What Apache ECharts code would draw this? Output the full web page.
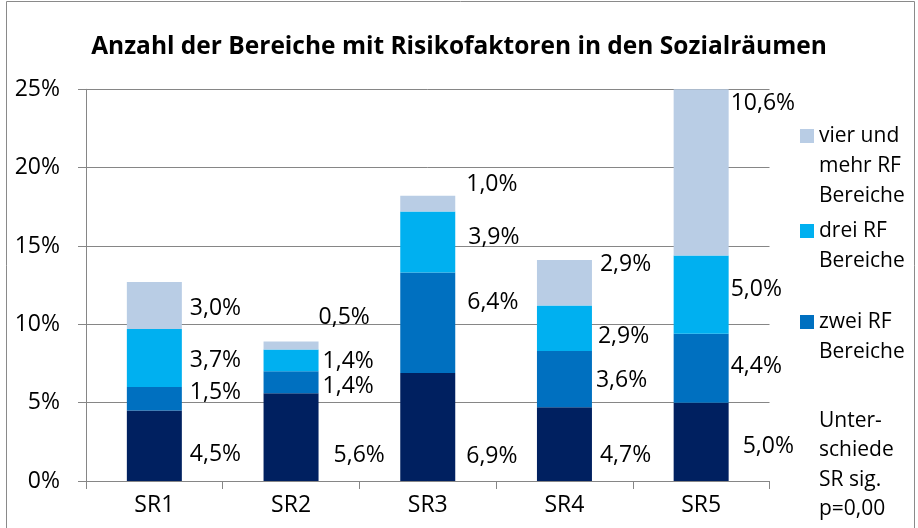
<!DOCTYPE html>
<html>
<head>
<meta charset="utf-8">
<script src="https://cdn.jsdelivr.net/npm/echarts@6/dist/echarts.min.js"></script>
<style>html,body{margin:0;padding:0;background:#fff}#c{width:918px;height:528px}</style>
</head>
<body>
<div id="c"></div>
<script>
const categories = ['SR1', 'SR2', 'SR3', 'SR4', 'SR5'];
const einRF = [4.5, 5.6, 6.9, 4.7, 5.0];
const zweiRF = [1.5, 1.4, 6.4, 3.6, 4.4];
const dreiRF = [3.7, 1.4, 3.9, 2.9, 5.0];
const vierRF = [3.0, 0.5, 1.0, 2.9, 10.6];
const yTicks = [0, 5, 10, 15, 20, 25];
const seriesNames = ['ein RF Bereich', 'zwei RF Bereiche', 'drei RF Bereiche', 'vier und mehr RF Bereiche'];
const legendText = {
  'vier und mehr RF Bereiche': 'vier und\nmehr RF\nBereiche',
  'drei RF Bereiche': 'drei RF\nBereiche',
  'zwei RF Bereiche': 'zwei RF\nBereiche'
};
const noteText = 'Unter-\nschiede\nSR sig.\np=0,00';

// label nudges (style only): [dx, dy] per category
const labelNudge = [
  [[8, 9], [15, 18], [11, 30], [8, 11], [14, 5]],
  [[8, -6], [4, 4], [12, -20], [4, 1], [2, -2]],
  [[8, 2], [4, 1], [13, -5], [6, 8], [2, -5]],
  [[8, 3], [0, -28], [11, -19], [8, -18], [2, -69]]
];
const colors = ['#002060', '#0070C0', '#00B0F0', '#B9CDE5'];
const FONT = '"Open Sans", "Noto Sans", sans-serif';
const fmt = v => v.toFixed(1).replace('.', ',') + '%';

const values = [einRF, zweiRF, dreiRF, vierRF];
const series = values.map((arr, si) => ({
  name: seriesNames[si],
  type: 'bar',
  stack: 'total',
  barWidth: 55,
  itemStyle: { color: colors[si] },
  data: arr.map((v, ci) => ({
    value: v,
    label: { offset: labelNudge[si][ci] }
  })),
  label: {
    show: true,
    position: 'right',
    distance: 0,
    color: '#000',
    fontSize: 23,
    fontFamily: FONT,
    formatter: p => fmt(p.value)
  }
}));

function mkLegend(name, top) {
  const txt = legendText[name];
  const lines = txt.split('\n').length;
  const pre = '\n'.repeat(lines - 1);
  return {
    data: [name],
    orient: 'vertical',
    left: 800,
    top: top,
    padding: 0,
    itemWidth: 14,
    itemHeight: 14,
    icon: 'rect',
    selectedMode: false,
    formatter: n => pre + legendText[n],
    textStyle: {
      fontSize: 21,
      fontFamily: FONT,
      color: '#000',
      lineHeight: 30
    }
  };
}

const chart = echarts.init(document.getElementById('c'));
chart.setOption({
  animation: false,
  title: {
    text: 'Anzahl der Bereiche mit Risikofaktoren in den Sozialräumen',
    left: 'center',
    top: 30,
    textStyle: { fontSize: 24.5, fontWeight: 'bold', fontFamily: FONT, color: '#000' }
  },
  legend: [
    mkLegend('vier und mehr RF Bereiche', 61),
    mkLegend('drei RF Bereiche', 186),
    mkLegend('zwei RF Bereiche', 277)
  ],
  graphic: [
    {
      type: 'rect',
      shape: { x: 6.5, y: 1.5, width: 908, height: 540 },
      style: { fill: 'none', stroke: '#8a8a8a', lineWidth: 1 },
      silent: true
    },
    {
      type: 'text',
      left: 819,
      top: 406,
      style: { text: noteText, fontSize: 21, fontFamily: FONT, fill: '#000', lineHeight: 29.5 }
    }
  ],
  grid: { left: 86, right: 148.5, top: 89.3, bottom: 47, containLabel: false },
  xAxis: {
    type: 'category',
    data: categories,
    axisLine: { lineStyle: { color: '#868686' } },
    axisTick: { show: true, length: 8, alignWithLabel: false, lineStyle: { color: '#868686' } },
    axisLabel: { color: '#000', fontSize: 23, fontFamily: FONT, margin: 13 }
  },
  yAxis: {
    type: 'value',
    min: yTicks[0],
    max: yTicks[yTicks.length - 1],
    interval: yTicks[1] - yTicks[0],
    axisLine: { show: true, lineStyle: { color: '#868686' } },
    axisTick: { show: true, length: 8, lineStyle: { color: '#868686' } },
    splitLine: { lineStyle: { color: '#868686' } },
    axisLabel: { color: '#000', fontSize: 23, fontFamily: FONT, margin: 26, formatter: '{value}%' }
  },
  series: series
});
</script>
</body>
</html>
